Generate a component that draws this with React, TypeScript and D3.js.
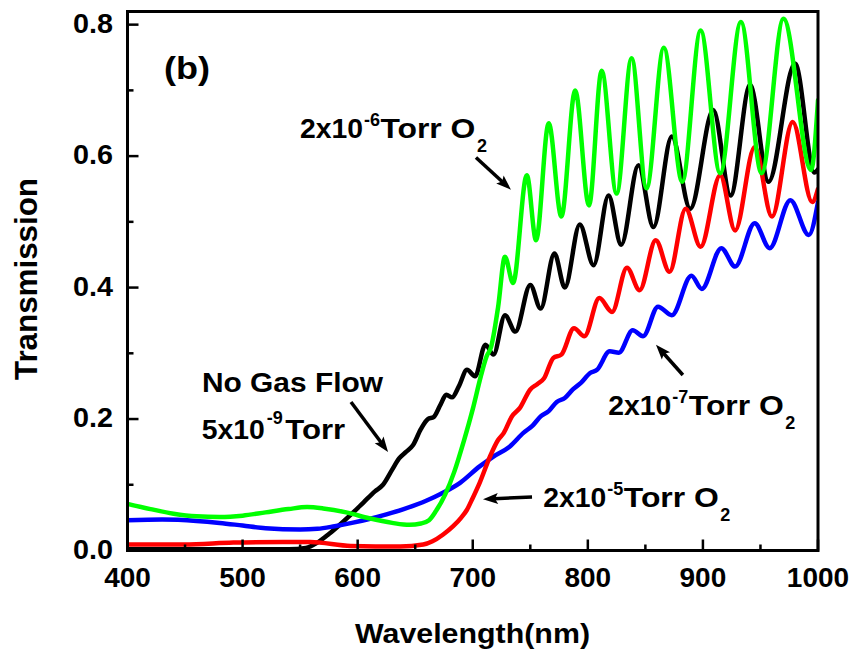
import React from 'react';
import * as d3 from 'd3';

// ---- data (wavelength in nm, transmission) ----
const noGasWl = [400, 450, 500, 540, 555, 565, 575, 585, 595, 605, 615, 622, 630, 636, 642, 648, 655, 661, 666, 672, 677, 682, 688, 695, 702, 711, 718, 728, 737, 750, 759, 771, 780, 793, 805, 818, 829, 844, 857, 873, 889, 909, 924, 941, 957, 980, 997, 1000];
const noGasT = [0.002, 0.002, 0.002, 0.002, 0.004, 0.012, 0.025, 0.04, 0.056, 0.073, 0.09, 0.1, 0.123, 0.14, 0.15, 0.16, 0.185, 0.2, 0.203, 0.222, 0.237, 0.233, 0.25, 0.275, 0.265, 0.313, 0.298, 0.358, 0.333, 0.404, 0.368, 0.452, 0.4, 0.496, 0.434, 0.54, 0.465, 0.586, 0.492, 0.63, 0.52, 0.67, 0.54, 0.708, 0.561, 0.741, 0.575, 0.58];

const o2e7Wl = [400, 430, 460, 480, 500, 520, 550, 565, 580, 595, 610, 625, 640, 660, 672, 689, 706, 718, 732, 744, 752, 759, 766, 773, 780, 787, 794, 802, 808, 819, 827, 839, 848, 861, 873, 890, 899, 916, 928, 945, 958, 976, 992, 1000];
const o2e7T = [0.046, 0.047, 0.045, 0.042, 0.038, 0.034, 0.032, 0.033, 0.037, 0.042, 0.048, 0.055, 0.063, 0.076, 0.086, 0.103, 0.128, 0.143, 0.158, 0.179, 0.19, 0.204, 0.212, 0.226, 0.232, 0.245, 0.255, 0.27, 0.275, 0.303, 0.301, 0.335, 0.326, 0.371, 0.358, 0.418, 0.398, 0.46, 0.432, 0.498, 0.46, 0.533, 0.48, 0.53];

const o2e5Wl = [400, 449, 492, 535, 559, 594, 637, 657, 665, 674, 683, 690, 695, 700, 706, 715, 722, 727, 734, 741, 750, 756, 762, 770, 777, 788, 797, 810, 821, 834, 845, 859, 871, 885, 898, 915, 928, 945, 960, 978, 995, 1000];
const o2e5T = [0.009, 0.009, 0.012, 0.013, 0.013, 0.007, 0.006, 0.009, 0.014, 0.024, 0.037, 0.05, 0.062, 0.08, 0.103, 0.143, 0.168, 0.179, 0.204, 0.217, 0.245, 0.253, 0.262, 0.293, 0.298, 0.338, 0.326, 0.384, 0.363, 0.43, 0.396, 0.472, 0.424, 0.52, 0.462, 0.571, 0.487, 0.614, 0.508, 0.652, 0.53, 0.55];

const o2e6Wl = [400, 420, 440, 460, 480, 500, 520, 540, 556, 570, 590, 610, 630, 645, 655, 662, 668, 676, 684, 692, 700, 707, 712, 716, 722, 728, 735, 747, 755, 766, 777, 789, 801, 812, 825, 838, 851, 866, 882, 898, 915, 933, 951, 970, 994, 1000];
const o2e6T = [0.071, 0.063, 0.056, 0.052, 0.051, 0.053, 0.058, 0.063, 0.066, 0.064, 0.058, 0.049, 0.042, 0.039, 0.041, 0.046, 0.06, 0.085, 0.12, 0.165, 0.215, 0.265, 0.295, 0.31, 0.37, 0.447, 0.407, 0.571, 0.472, 0.65, 0.508, 0.7, 0.525, 0.73, 0.543, 0.749, 0.551, 0.765, 0.561, 0.791, 0.574, 0.804, 0.574, 0.809, 0.579, 0.685];

const xTicks = [400, 500, 600, 700, 800, 900, 1000];
const xMinor = [450, 550, 650, 750, 850, 950];
const yTicks = [0.0, 0.2, 0.4, 0.6, 0.8];
const yMinor = [0.1, 0.3, 0.5, 0.7];

const FONT = "'Liberation Sans', Arial, Helvetica, sans-serif";

export default function App() {
  const L = 127.5, R = 818, T = 11.5, B = 550.5;
  const x = d3.scaleLinear().domain([400, 1000]).range([L, R]);
  const y = d3.scaleLinear().domain([0, 0.82]).range([B, T]);
  const line = d3.line<[number, number]>().x(d => x(d[0])).y(d => y(d[1])).curve(d3.curveMonotoneX);
  const zip = (a: number[], b: number[]) => a.map((v, i) => [v, b[i]] as [number, number]);

  const series = [
    { wl: noGasWl, t: noGasT, color: '#000000' },
    { wl: o2e7Wl, t: o2e7T, color: '#0000ff' },
    { wl: o2e5Wl, t: o2e5T, color: '#ff0000' },
    { wl: o2e6Wl, t: o2e6T, color: '#00ff00' },
  ];

  const arrow = (x1: number, y1: number, x2: number, y2: number, key: string) => {
    const dx = x2 - x1, dy = y2 - y1;
    const len = Math.hypot(dx, dy);
    const ux = dx / len, uy = dy / len;
    const hl = 15, hw = 5.5;
    const bx = x2 - ux * hl, by = y2 - uy * hl;
    const px = -uy, py = ux;
    const pts = [[x2, y2], [bx + px * hw, by + py * hw], [bx + ux * 3, by + uy * 3], [bx - px * hw, by - py * hw]]
      .map(p => p.join(',')).join(' ');
    return (
      <g key={key}>
        <line x1={x1} y1={y1} x2={bx + ux * 4} y2={by + uy * 4} stroke="#000" strokeWidth={3.5} />
        <polygon points={pts} fill="#000" />
      </g>
    );
  };

  const oxLabel = (x0: number, base: number, exp: string, key: string) => (
    <g key={key}>
      <text x={x0} y={base} fontSize={28} textLength={63} lengthAdjust="spacingAndGlyphs">2x10</text>
      <text x={x0 + 64} y={base - 12} fontSize={18}>{exp}</text>
      <text x={x0 + 80.5} y={base} fontSize={28} textLength={95} lengthAdjust="spacingAndGlyphs">Torr O</text>
      <text x={x0 + 177} y={base + 14} fontSize={18}>2</text>
    </g>
  );

  return (
    <svg width={855} height={654} style={{ position: 'absolute', left: 0, top: 0, background: '#fff' }}
      fontFamily={FONT} fontWeight="bold">
      <defs>
        <clipPath id="plotClip">
          <rect x={L} y={T} width={R - L} height={B - T} />
        </clipPath>
      </defs>
      <rect x={0} y={0} width={855} height={654} fill="#fff" />
      <g clipPath="url(#plotClip)">
        {series.map((s, i) => (
          <path key={i} d={line(zip(s.wl, s.t)) || ''} fill="none" stroke={s.color} strokeWidth={4.5}
            strokeLinejoin="round" strokeLinecap="round" />
        ))}
      </g>
      {/* frame */}
      <rect x={L} y={T} width={R - L} height={B - T} fill="none" stroke="#000" strokeWidth={3} />
      {/* x ticks */}
      {xTicks.map(v => (
        <g key={'xt' + v}>
          <line x1={x(v)} x2={x(v)} y1={B} y2={B - 11} stroke="#000" strokeWidth={2.5} />
          <text x={x(v)} y={587} fontSize={28} textAnchor="middle">{v}</text>
        </g>
      ))}
      {xMinor.map(v => (
        <line key={'xm' + v} x1={x(v)} x2={x(v)} y1={B} y2={B - 6} stroke="#000" strokeWidth={2.5} />
      ))}
      {yTicks.map(v => (
        <g key={'yt' + v}>
          <line x1={L} x2={L + 11} y1={y(v)} y2={y(v)} stroke="#000" strokeWidth={2.5} />
          <text x={113} y={y(v) + 8} fontSize={28} textAnchor="end" textLength={40} lengthAdjust="spacingAndGlyphs">{v.toFixed(1)}</text>
        </g>
      ))}
      {yMinor.map(v => (
        <line key={'ym' + v} x1={L} x2={L + 6} y1={y(v)} y2={y(v)} stroke="#000" strokeWidth={2.5} />
      ))}
      {/* axis titles */}
      <text x={355} y={643} fontSize={28} textLength={235} lengthAdjust="spacingAndGlyphs">Wavelength(nm)</text>
      <text transform="translate(36.5,279) rotate(-90)" fontSize={31} textAnchor="middle" textLength={202} lengthAdjust="spacingAndGlyphs">Transmission</text>

      {/* panel label */}
      <text x={164} y={79} fontSize={32} textLength={46} lengthAdjust="spacingAndGlyphs">(b)</text>

      {/* annotations */}
      {oxLabel(x(549.8), y(0.627), '-6', 'l6')}
      {oxLabel(x(817.8), y(0.206), '-7', 'l7')}
      {oxLabel(x(761.3), y(0.0657), '-5', 'l5')}
      <text x={x(464.7)} y={y(0.241)} fontSize={28} textLength={181} lengthAdjust="spacingAndGlyphs">No Gas Flow</text>
      <g>
        <text x={x(464.5)} y={y(0.169)} fontSize={28} textLength={63} lengthAdjust="spacingAndGlyphs">5x10</text>
        <text x={x(464.5) + 65} y={y(0.169) - 15} fontSize={18}>-9</text>
        <text x={x(464.5) + 83.5} y={y(0.169)} fontSize={28} textLength={60} lengthAdjust="spacingAndGlyphs">Torr</text>
      </g>

      {arrow(x(702.8), y(0.598), x(733.2), y(0.549), 'a1')}
      {arrow(x(594.2), y(0.226), x(626.4), y(0.150), 'a2')}
      {arrow(x(882.6), y(0.267), x(859.2), y(0.313), 'a3')}
      {arrow(x(751.5), y(0.0814), x(708.9), y(0.078), 'a4')}
    </svg>
  );
}
